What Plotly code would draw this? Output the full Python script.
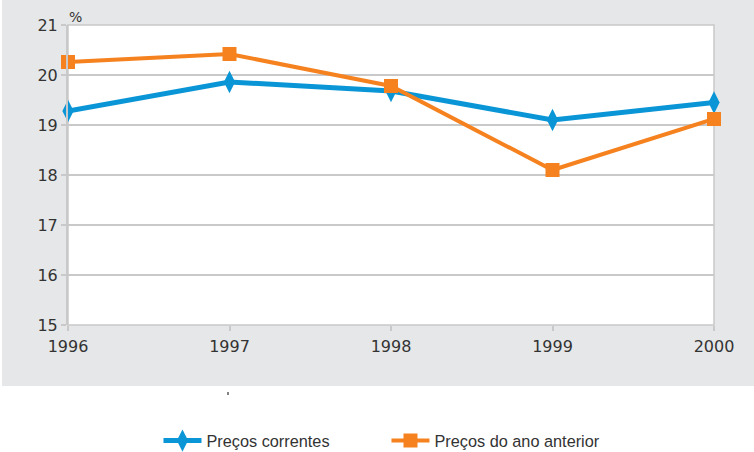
import plotly.graph_objects as go

years = [1996, 1997, 1998, 1999, 2000]
correntes = [19.28, 19.86, 19.68, 19.10, 19.45]
anterior = [20.26, 20.42, 19.78, 18.10, 19.12]
series_names = ["Preços correntes", "Preços do ano anterior"]

BLUE = "#0a96d6"
ORANGE = "#f5821f"
GRAY_BG = "#e6e7e8"
GRID = "#c9c9c9"
TICK_FONT = dict(family="DejaVu Sans, sans-serif", size=16, color="#333333")

W, H = 754, 452
L, R, T, B = 68, 40, 25, 127
pw, ph = W - L - R, H - T - B

fig = go.Figure()
fig.add_trace(go.Scatter(x=years, y=correntes, name=series_names[0], mode="lines+markers",
                         line=dict(color=BLUE, width=5), cliponaxis=False,
                         marker=dict(symbol="diamond-tall", size=16, color=BLUE)))
fig.add_trace(go.Scatter(x=years, y=anterior, name=series_names[1], mode="lines+markers",
                         line=dict(color=ORANGE, width=4), cliponaxis=False,
                         marker=dict(symbol="square", size=14, color=ORANGE)))

def px_x(p):
    return (p - L) / pw

def px_y(p):
    return (H - B - p) / ph

fig.add_shape(type="rect", xref="paper", yref="paper",
              x0=px_x(2), x1=px_x(756), y0=px_y(386), y1=px_y(-2),
              fillcolor=GRAY_BG, line=dict(width=0), layer="below")
fig.add_shape(type="rect", xref="paper", yref="paper",
              x0=0, x1=1, y0=0, y1=1,
              fillcolor="white", line=dict(color=GRID, width=1.5), layer="below")
fig.add_shape(type="line", xref="paper", yref="paper",
              x0=px_x(228), x1=px_x(228), y0=px_y(392), y1=px_y(395),
              line=dict(color="#333333", width=1.2))

fig.add_annotation(text="%", xref="paper", yref="paper", x=px_x(67), y=px_y(17),
                   xanchor="left", yanchor="middle", showarrow=False,
                   font=dict(family="DejaVu Sans, sans-serif", size=14, color="#333333"))

fig.update_layout(
    width=W, height=H,
    margin=dict(l=L, r=R, t=T, b=B, autoexpand=False),
    paper_bgcolor="white", plot_bgcolor="rgba(0,0,0,0)",
    font=dict(family="Liberation Sans, Arial, sans-serif", size=15, color="#333333"),
    showlegend=True,
    legend=dict(orientation="h", x=0.493, xanchor="center", y=px_y(441), yanchor="middle",
                font=dict(size=16.3, color="#333333"), itemwidth=38,
                bgcolor="rgba(0,0,0,0)", entrywidthmode="pixels", entrywidth=175),
    xaxis=dict(range=[1996, 2000], tickvals=years, ticktext=[str(y) for y in years],
               showgrid=False, zeroline=False, showline=False,
               ticks="outside", ticklen=5, tickcolor=GRID, tickwidth=1.5,
               ticklabelstandoff=2, tickfont=TICK_FONT),
    yaxis=dict(range=[15, 21], dtick=1, showgrid=True, gridcolor=GRID, gridwidth=1.5,
               zeroline=False, showline=True, linecolor=GRID, linewidth=2,
               ticks="outside", ticklen=5, tickcolor=GRID, tickwidth=1.5,
               tickfont=TICK_FONT),
)

fig.write_html("out.html", config={"displayModeBar": False},
               post_script="document.body.style.margin='0';document.body.style.padding='0';")
